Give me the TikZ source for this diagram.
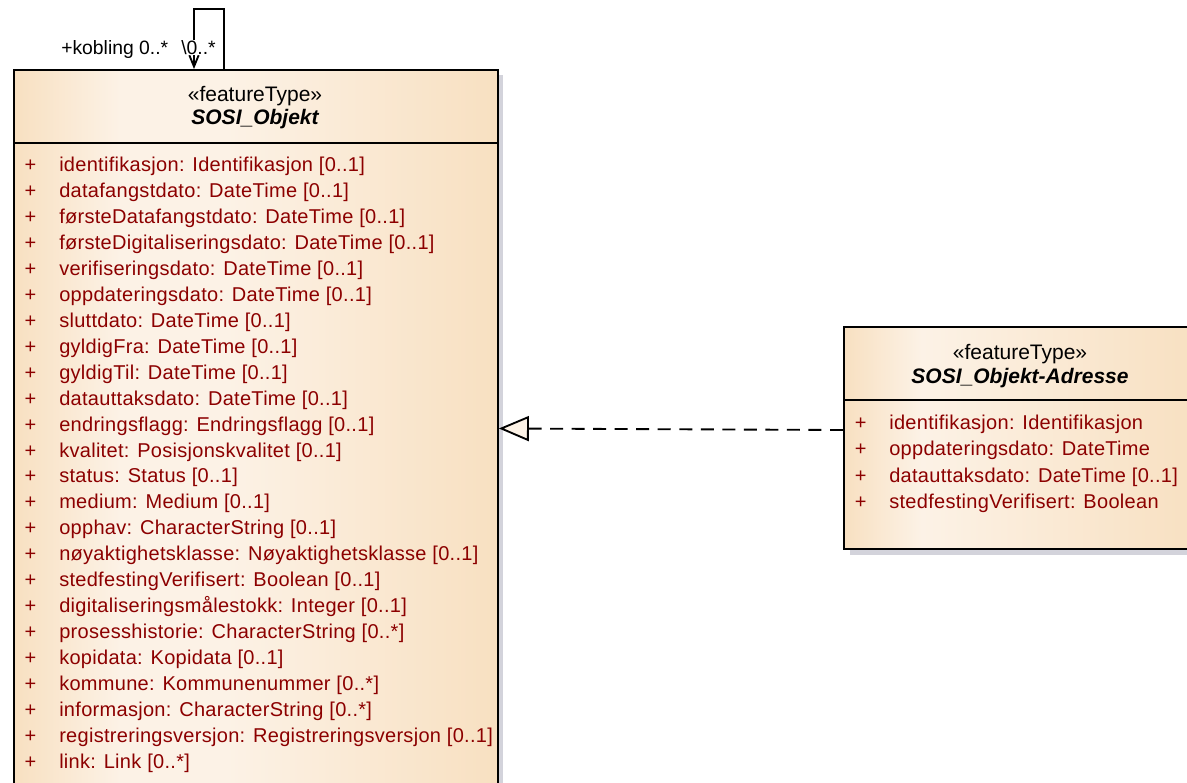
\documentclass[tikz,border=0pt]{standalone}
\usepackage{fontspec}
\setmainfont{Liberation Sans}
\newfontfamily\attrfont[LetterSpace=1.5]{Liberation Sans}
\usetikzlibrary{arrows.meta}
\definecolor{attrc}{RGB}{140,0,0}
\definecolor{fillL}{RGB}{252,242,230}
\definecolor{fillR}{RGB}{248,224,193}
\definecolor{shadowc}{RGB}{211,211,219}
\pgfdeclarehorizontalshading{peachL}{100bp}{color(0bp)=(fillR); color(25bp)=(fillR); color(36bp)=(fillL); color(47bp)=(fillL); color(75bp)=(fillR); color(100bp)=(fillR)}
\pgfdeclarehorizontalshading{peachR}{100bp}{color(0bp)=(fillR); color(25bp)=(fillR); color(36bp)=(fillL); color(75bp)=(fillR); color(100bp)=(fillR)}
\begin{document}
\begin{tikzpicture}[x=0.75pt,y=-0.75pt,
  classbox/.style={draw=black, line width=1.4pt, inner sep=0pt, anchor=north west},
  attr/.style={anchor=base west, inner sep=0pt, text=attrc, font=\attrfont\fontsize{15}{18}\selectfont},
  vis/.style={anchor=base, inner sep=0pt, text=attrc, font=\fontsize{15}{18}\selectfont},
  stereo/.style={anchor=base, inner sep=0pt, font=\fontsize{15.75}{18}\selectfont},
  cname/.style={anchor=base, inner sep=0pt, font=\bfseries\itshape\fontsize{15.75}{18}\selectfont},
  role/.style={anchor=base west, inner sep=0pt, font=\fontsize{14.5}{17}\selectfont},
  conn/.style={draw=black, line width=1.4pt}]
\useasboundingbox (0,0) rectangle (1187,782);
% shadows
\fill[shadowc] (18,75) rectangle (503,800);
\fill[shadowc] (850,333) rectangle (1204,555);
% boxes
\node[classbox, shading=peachL, minimum width=363pt, minimum height=548.25pt] (lbox) at (13,69) {};
\node[classbox, shading=peachR, minimum width=265.5pt, minimum height=166.5pt] (rbox) at (843,326) {};
\draw[line width=1.4pt] (13,142.7) -- (497,142.7);
\draw[line width=1.4pt] (843,400) -- (1197,400);
% titles
\node[stereo] (lstereo) at (255,101.7) {«featureType»};
\node[cname] (lname) at (255,124) {SOSI\_Objekt};
\node[stereo] (rstereo) at (1020,359.3) {«featureType»};
\node[cname] (rname) at (1020,383.3) {SOSI\_Objekt-Adresse};
% left attributes
\foreach \t [count=\i from 0] in {
  identifikasjon: Identifikasjon [0..1],
  datafangstdato: DateTime [0..1],
  førsteDatafangstdato: DateTime [0..1],
  førsteDigitaliseringsdato: DateTime [0..1],
  verifiseringsdato: DateTime [0..1],
  oppdateringsdato: DateTime [0..1],
  sluttdato: DateTime [0..1],
  gyldigFra: DateTime [0..1],
  gyldigTil: DateTime [0..1],
  datauttaksdato: DateTime [0..1],
  endringsflagg: Endringsflagg [0..1],
  kvalitet: Posisjonskvalitet [0..1],
  status: Status [0..1],
  medium: Medium [0..1],
  opphav: CharacterString [0..1],
  nøyaktighetsklasse: Nøyaktighetsklasse [0..1],
  stedfestingVerifisert: Boolean [0..1],
  digitaliseringsmålestokk: Integer [0..1],
  prosesshistorie: CharacterString [0..*],
  kopidata: Kopidata [0..1],
  kommune: Kommunenummer [0..*],
  informasjon: CharacterString [0..*],
  registreringsversjon: Registreringsversjon [0..1],
  link: Link [0..*]} {
  \node[vis] (lp\i) at (30.5,{171.7+25.94*\i}) {+};
  \node[attr] (la\i) at (59,{171.7+25.94*\i}) {\t};
}
% right attributes
\foreach \t [count=\i from 0] in {
  identifikasjon: Identifikasjon,
  oppdateringsdato: DateTime,
  datauttaksdato: DateTime [0..1],
  stedfestingVerifisert: Boolean} {
  \node[vis] (rp\i) at (860.7,{429.4+26.3*\i}) {+};
  \node[attr] (ra\i) at (889,{429.4+26.3*\i}) {\t};
}
% self association
\draw[conn, -{Straight Barb[length=8.5pt,width=7pt]}] ([xshift=158.25pt]lbox.north west) -- ++(0,-60) -- ++(-30,0) -- ([xshift=135.75pt]lbox.north west);
\node[role] (role1) at (61,54.5) {+kobling 0..*};
\node[role, fill=white, inner ysep=0.5pt] (role2) at (181,54.5) {\textbackslash 0..*};
% realization
\draw[conn, dash pattern=on 9.75pt off 6.4pt, -{Triangle[length=22.5pt, width=18.75pt, fill=fillL]}] ([yshift=-78pt]rbox.north west) -- ([yshift=-269.6pt]lbox.north east);
\end{tikzpicture}
\end{document}
